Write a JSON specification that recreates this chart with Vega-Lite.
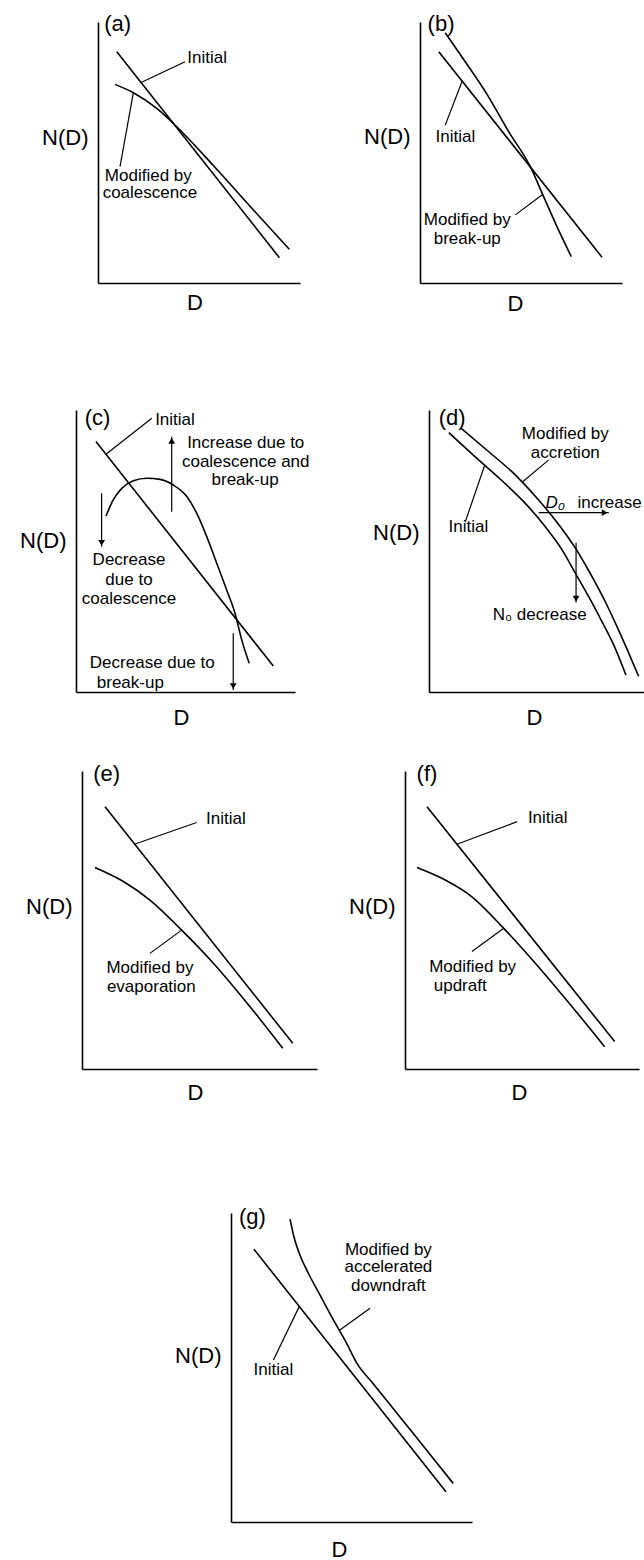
{
"$schema":"https://vega.github.io/schema/vega-lite/v6.json",
"autosize":"none",
"padding":{"left":0,"top":0,"right":644,"bottom":1560},
"background":"white",
"spacing":0,
"bounds":"flush",
"config":{
 "view":{"stroke":null},
 "font":"Liberation Sans",
 "axis":{"ticks":false,"labels":false,"grid":false,"domainColor":"black","domainWidth":1.6,"titleFont":"Liberation Sans","titleFontSize":22,"titleFontWeight":"normal","titleColor":"black"},
 "axisY":{"titleAngle":0,"titleAlign":"right","titleBaseline":"middle","titleX":-10},
 "axisX":{"titleAlign":"center","titleBaseline":"middle"},
 "text":{"font":"Liberation Sans","fontSize":17,"color":"black","baseline":"middle","align":"center"}
},
"vconcat":[
 {"width":1,"height":22,"data":{"values":[]},"mark":{"type":"point","opacity":0}},
 {"hconcat":[
  {"width":98,"height":1,"data":{"values":[]},"mark":{"type":"point","opacity":0}},
  {"width":202,"height":261,
   "data":{"values":[
    {"kind":"curve","series":"initial","x":0.93,"y":8.86},{"kind":"curve","series":"initial","x":8.98,"y":0.97},
    {"kind":"curve","series":"modified","x":0.84,"y":7.61},{"kind":"curve","series":"modified","x":1.75,"y":7.29},{"kind":"curve","series":"modified","x":2.91,"y":6.69},{"kind":"curve","series":"modified","x":4.06,"y":5.86},{"kind":"curve","series":"modified","x":5.71,"y":4.5},{"kind":"curve","series":"modified","x":7.69,"y":2.8},{"kind":"curve","series":"modified","x":9.47,"y":1.29},
    {"kind":"leader","series":"l1","x":2.16,"y":7.69},{"kind":"leader","series":"l1","x":4.31,"y":8.48},
    {"kind":"leader","series":"l2","x":1.75,"y":7.29},{"kind":"leader","series":"l2","x":1.09,"y":4.46},
    {"kind":"label","t":"Initial","x":5.4,"y":8.62},
    {"kind":"label","t":"Modified by","x":2.49,"y":4.1},
    {"kind":"label","t":"coalescence","x":2.57,"y":3.44},
    {"kind":"panel","t":"(a)","x":0.97,"y":9.92}
   ]},
   "encoding":{
    "x":{"field":"x","type":"quantitative","scale":{"domain":[0,10],"nice":false,"zero":false},"axis":{"title":"D","titleX":96.5,"titleY":19}},
    "y":{"field":"y","type":"quantitative","scale":{"domain":[0,10],"nice":false,"zero":false},"axis":{"title":"N(D)","titleY":115}}
   },
   "layer":[
    {"transform":[{"filter":"datum.kind==='curve'"}],"mark":{"type":"line","color":"black","strokeWidth":1.6,"interpolate":"monotone"},"encoding":{"detail":{"field":"series","type":"nominal"}}},
    {"transform":[{"filter":"datum.kind==='leader'"}],"mark":{"type":"line","color":"black","strokeWidth":1.2},"encoding":{"detail":{"field":"series","type":"nominal"}}},
    {"transform":[{"filter":"datum.kind==='label'"}],"mark":{"type":"text"},"encoding":{"text":{"field":"t"}}},
    {"transform":[{"filter":"datum.kind==='panel'"}],"mark":{"type":"text","fontSize":22},"encoding":{"text":{"field":"t"}}}
   ]},
  {"width":120,"height":1,"data":{"values":[]},"mark":{"type":"point","opacity":0}},
  {"width":202,"height":261,
   "data":{"values":[
    {"kind":"curve","series":"initial","x":0.93,"y":8.86},{"kind":"curve","series":"initial","x":9.01,"y":0.99},
    {"kind":"curve","series":"modified","x":1.25,"y":9.59},{"kind":"curve","series":"modified","x":2.24,"y":8.48},{"kind":"curve","series":"modified","x":3.32,"y":7.23},{"kind":"curve","series":"modified","x":4.39,"y":5.8},{"kind":"curve","series":"modified","x":5.46,"y":4.46},{"kind":"curve","series":"modified","x":6.12,"y":3.31},{"kind":"curve","series":"modified","x":6.78,"y":2.16},{"kind":"curve","series":"modified","x":7.49,"y":1.01},
    {"kind":"leader","series":"l1","x":2.08,"y":7.72},{"kind":"leader","series":"l1","x":1.25,"y":6.05},
    {"kind":"leader","series":"l2","x":6.07,"y":3.39},{"kind":"leader","series":"l2","x":4.72,"y":2.61},
    {"kind":"label","t":"Initial","x":1.75,"y":5.58},
    {"kind":"label","t":"Modified by","x":2.34,"y":2.41},
    {"kind":"label","t":"break-up","x":2.34,"y":1.67},
    {"kind":"panel","t":"(b)","x":1.04,"y":9.92}
   ]},
   "encoding":{
    "x":{"field":"x","type":"quantitative","scale":{"domain":[0,10],"nice":false,"zero":false},"axis":{"title":"D","titleX":95,"titleY":20}},
    "y":{"field":"y","type":"quantitative","scale":{"domain":[0,10],"nice":false,"zero":false},"axis":{"title":"N(D)","titleY":114}}
   },
   "layer":[
    {"transform":[{"filter":"datum.kind==='curve'"}],"mark":{"type":"line","color":"black","strokeWidth":1.6,"interpolate":"monotone"},"encoding":{"detail":{"field":"series","type":"nominal"}}},
    {"transform":[{"filter":"datum.kind==='leader'"}],"mark":{"type":"line","color":"black","strokeWidth":1.2},"encoding":{"detail":{"field":"series","type":"nominal"}}},
    {"transform":[{"filter":"datum.kind==='label'"}],"mark":{"type":"text"},"encoding":{"text":{"field":"t"}}},
    {"transform":[{"filter":"datum.kind==='panel'"}],"mark":{"type":"text","fontSize":22},"encoding":{"text":{"field":"t"}}}
   ]}
 ],"spacing":0,"bounds":"flush"},
 {"width":1,"height":388,"data":{"values":[]},"mark":{"type":"point","opacity":0}},
 {"hconcat":[
  {"width":76,"height":1,"data":{"values":[]},"mark":{"type":"point","opacity":0}},
  {"width":219,"height":282,
   "data":{"values":[
    {"kind":"curve","series":"initial","x":0.91,"y":8.88},{"kind":"curve","series":"initial","x":9.01,"y":0.92},
    {"kind":"curve","series":"modified","x":1.37,"y":6.24},{"kind":"curve","series":"modified","x":1.7,"y":6.81},{"kind":"curve","series":"modified","x":2.09,"y":7.22},{"kind":"curve","series":"modified","x":2.62,"y":7.49},{"kind":"curve","series":"modified","x":3.23,"y":7.58},{"kind":"curve","series":"modified","x":3.84,"y":7.54},{"kind":"curve","series":"modified","x":4.44,"y":7.34},{"kind":"curve","series":"modified","x":5.06,"y":6.93},{"kind":"curve","series":"modified","x":5.51,"y":6.34},{"kind":"curve","series":"modified","x":5.97,"y":5.51},{"kind":"curve","series":"modified","x":6.43,"y":4.56},{"kind":"curve","series":"modified","x":6.88,"y":3.62},{"kind":"curve","series":"modified","x":7.26,"y":2.79},{"kind":"curve","series":"modified","x":7.57,"y":1.84},{"kind":"curve","series":"modified","x":7.91,"y":1.02},
    {"kind":"leader","series":"l1","x":1.37,"y":8.43},{"kind":"leader","series":"l1","x":3.46,"y":9.71},
    {"kind":"leader","series":"s1","x":4.37,"y":6.39},{"kind":"leader","series":"s1","x":4.37,"y":9.05},
    {"kind":"leader","series":"s2","x":1.17,"y":7.05},{"kind":"leader","series":"s2","x":1.17,"y":5.15},
    {"kind":"leader","series":"s3","x":7.18,"y":2.08},{"kind":"leader","series":"s3","x":7.18,"y":0.07},
    {"kind":"head","dir":"up","x":4.37,"y":8.91},
    {"kind":"head","dir":"down","x":1.17,"y":5.29},
    {"kind":"head","dir":"down","x":7.18,"y":0.21},
    {"kind":"label","t":"Initial","x":4.52,"y":9.65},
    {"kind":"label","t":"Increase due to","x":7.75,"y":8.84},
    {"kind":"label","t":"coalescence and","x":7.75,"y":8.17},
    {"kind":"label","t":"break-up","x":7.72,"y":7.52},
    {"kind":"label","t":"Decrease","x":2.42,"y":4.68},
    {"kind":"label","t":"due to","x":2.42,"y":3.97},
    {"kind":"label","t":"coalescence","x":2.42,"y":3.29},
    {"kind":"label","t":"Decrease due to","x":3.48,"y":1.02},
    {"kind":"label","t":"break-up","x":2.48,"y":0.33},
    {"kind":"panel","t":"(c)","x":0.98,"y":9.72}
   ]},
   "encoding":{
    "x":{"field":"x","type":"quantitative","scale":{"domain":[0,10],"nice":false,"zero":false},"axis":{"title":"D","titleX":105,"titleY":25}},
    "y":{"field":"y","type":"quantitative","scale":{"domain":[0,10],"nice":false,"zero":false},"axis":{"title":"N(D)","titleY":130}}
   },
   "layer":[
    {"transform":[{"filter":"datum.kind==='curve'"}],"mark":{"type":"line","color":"black","strokeWidth":1.6,"interpolate":"monotone"},"encoding":{"detail":{"field":"series","type":"nominal"}}},
    {"transform":[{"filter":"datum.kind==='leader'"}],"mark":{"type":"line","color":"black","strokeWidth":1.2},"encoding":{"detail":{"field":"series","type":"nominal"}}},
    {"transform":[{"filter":"datum.kind==='head'"}],"mark":{"type":"point","filled":true,"color":"black","size":45,"opacity":1},"encoding":{"shape":{"field":"dir","type":"nominal","scale":{"domain":["up","down","right"],"range":["triangle-up","triangle-down","triangle-right"]},"legend":null}}},
    {"transform":[{"filter":"datum.kind==='label'"}],"mark":{"type":"text"},"encoding":{"text":{"field":"t"}}},
    {"transform":[{"filter":"datum.kind==='panel'"}],"mark":{"type":"text","fontSize":22},"encoding":{"text":{"field":"t"}}}
   ]},
  {"width":134,"height":1,"data":{"values":[]},"mark":{"type":"point","opacity":0}},
  {"width":215,"height":282,
   "data":{"values":[
    {"kind":"curve","series":"initial","x":0.92,"y":9.2},{"kind":"curve","series":"initial","x":2.15,"y":8.34},{"kind":"curve","series":"initial","x":3.4,"y":7.49},{"kind":"curve","series":"initial","x":4.48,"y":6.69},{"kind":"curve","series":"initial","x":5.41,"y":5.86},{"kind":"curve","series":"initial","x":6.19,"y":5.04},{"kind":"curve","series":"initial","x":6.81,"y":4.21},{"kind":"curve","series":"initial","x":7.43,"y":3.38},{"kind":"curve","series":"initial","x":8.05,"y":2.49},{"kind":"curve","series":"initial","x":8.59,"y":1.67},{"kind":"curve","series":"initial","x":9.16,"y":0.6},
    {"kind":"curve","series":"modified","x":1.5,"y":9.35},{"kind":"curve","series":"modified","x":2.78,"y":8.52},{"kind":"curve","series":"modified","x":4.01,"y":7.7},{"kind":"curve","series":"modified","x":5.1,"y":6.81},{"kind":"curve","series":"modified","x":6.11,"y":5.86},{"kind":"curve","series":"modified","x":6.81,"y":5.1},{"kind":"curve","series":"modified","x":7.43,"y":4.3},{"kind":"curve","series":"modified","x":8.2,"y":3.2},{"kind":"curve","series":"modified","x":8.67,"y":2.44},{"kind":"curve","series":"modified","x":9.21,"y":1.52},{"kind":"curve","series":"modified","x":9.75,"y":0.56},
    {"kind":"leader","series":"l1","x":4.33,"y":7.44},{"kind":"leader","series":"l1","x":5.57,"y":8.23},
    {"kind":"leader","series":"l2","x":2.59,"y":8.04},{"kind":"leader","series":"l2","x":1.69,"y":6.04},
    {"kind":"leader","series":"s1","x":5.1,"y":6.36},{"kind":"leader","series":"s1","x":8.36,"y":6.36},
    {"kind":"leader","series":"s2","x":6.84,"y":5.29},{"kind":"leader","series":"s2","x":6.84,"y":3.17},
    {"kind":"head","dir":"right","x":8.17,"y":6.36},
    {"kind":"head","dir":"down","x":6.84,"y":3.31},
    {"kind":"label","t":"Modified by","x":6.34,"y":9.15},
    {"kind":"label","t":"accretion","x":6.34,"y":8.49},
    {"kind":"label","t":"Initial","x":1.83,"y":5.86},
    {"kind":"label","t":"increase","x":8.4,"y":6.69},
    {"kind":"label","t":"N₀ decrease","x":5.15,"y":2.73},
    {"kind":"sym","t":"D₀","x":5.87,"y":6.69},
    {"kind":"panel","t":"(d)","x":1.08,"y":9.72}
   ]},
   "encoding":{
    "x":{"field":"x","type":"quantitative","scale":{"domain":[0,10],"nice":false,"zero":false},"axis":{"title":"D","titleX":105,"titleY":25}},
    "y":{"field":"y","type":"quantitative","scale":{"domain":[0,10],"nice":false,"zero":false},"axis":{"title":"N(D)","titleY":122}}
   },
   "layer":[
    {"transform":[{"filter":"datum.kind==='curve'"}],"mark":{"type":"line","color":"black","strokeWidth":1.6,"interpolate":"monotone"},"encoding":{"detail":{"field":"series","type":"nominal"}}},
    {"transform":[{"filter":"datum.kind==='leader'"}],"mark":{"type":"line","color":"black","strokeWidth":1.2},"encoding":{"detail":{"field":"series","type":"nominal"}}},
    {"transform":[{"filter":"datum.kind==='head'"}],"mark":{"type":"point","filled":true,"color":"black","size":45,"opacity":1},"encoding":{"shape":{"field":"dir","type":"nominal","scale":{"domain":["up","down","right"],"range":["triangle-up","triangle-down","triangle-right"]},"legend":null}}},
    {"transform":[{"filter":"datum.kind==='label'"}],"mark":{"type":"text"},"encoding":{"text":{"field":"t"}}},
    {"transform":[{"filter":"datum.kind==='sym'"}],"mark":{"type":"text","fontStyle":"italic"},"encoding":{"text":{"field":"t"}}},
    {"transform":[{"filter":"datum.kind==='panel'"}],"mark":{"type":"text","fontSize":22},"encoding":{"text":{"field":"t"}}}
   ]}
 ],"spacing":0,"bounds":"flush"},
 {"width":1,"height":361,"data":{"values":[]},"mark":{"type":"point","opacity":0}},
 {"hconcat":[
  {"width":82,"height":1,"data":{"values":[]},"mark":{"type":"point","opacity":0}},
  {"width":235,"height":298,
   "data":{"values":[
    {"kind":"curve","series":"initial","x":0.98,"y":8.8},{"kind":"curve","series":"initial","x":8.97,"y":0.86},
    {"kind":"curve","series":"modified","x":0.55,"y":6.76},{"kind":"curve","series":"modified","x":1.76,"y":6.29},{"kind":"curve","series":"modified","x":2.89,"y":5.67},{"kind":"curve","series":"modified","x":4.24,"y":4.66},{"kind":"curve","series":"modified","x":5.59,"y":3.55},{"kind":"curve","series":"modified","x":7.15,"y":2.09},{"kind":"curve","series":"modified","x":8.54,"y":0.7},
    {"kind":"leader","series":"l1","x":2.26,"y":7.55},{"kind":"leader","series":"l1","x":4.88,"y":8.27},
    {"kind":"leader","series":"l2","x":4.24,"y":4.66},{"kind":"leader","series":"l2","x":2.89,"y":3.88},
    {"kind":"label","t":"Initial","x":6.12,"y":8.38},
    {"kind":"label","t":"Modified by","x":2.89,"y":3.38},
    {"kind":"label","t":"evaporation","x":2.95,"y":2.76},
    {"kind":"panel","t":"(e)","x":1.05,"y":9.9}
   ]},
   "encoding":{
    "x":{"field":"x","type":"quantitative","scale":{"domain":[0,10],"nice":false,"zero":false},"axis":{"title":"D","titleX":113,"titleY":23}},
    "y":{"field":"y","type":"quantitative","scale":{"domain":[0,10],"nice":false,"zero":false},"axis":{"title":"N(D)","titleY":135}}
   },
   "layer":[
    {"transform":[{"filter":"datum.kind==='curve'"}],"mark":{"type":"line","color":"black","strokeWidth":1.6,"interpolate":"monotone"},"encoding":{"detail":{"field":"series","type":"nominal"}}},
    {"transform":[{"filter":"datum.kind==='leader'"}],"mark":{"type":"line","color":"black","strokeWidth":1.2},"encoding":{"detail":{"field":"series","type":"nominal"}}},
    {"transform":[{"filter":"datum.kind==='label'"}],"mark":{"type":"text"},"encoding":{"text":{"field":"t"}}},
    {"transform":[{"filter":"datum.kind==='panel'"}],"mark":{"type":"text","fontSize":22},"encoding":{"text":{"field":"t"}}}
   ]},
  {"width":88,"height":1,"data":{"values":[]},"mark":{"type":"point","opacity":0}},
  {"width":234,"height":298,
   "data":{"values":[
    {"kind":"curve","series":"initial","x":0.94,"y":8.8},{"kind":"curve","series":"initial","x":8.96,"y":0.92},
    {"kind":"curve","series":"modified","x":0.51,"y":6.76},{"kind":"curve","series":"modified","x":1.72,"y":6.34},{"kind":"curve","series":"modified","x":2.86,"y":5.78},{"kind":"curve","series":"modified","x":4.22,"y":4.72},{"kind":"curve","series":"modified","x":5.57,"y":3.55},{"kind":"curve","series":"modified","x":7.14,"y":2.09},{"kind":"curve","series":"modified","x":8.53,"y":0.75},
    {"kind":"leader","series":"l1","x":2.22,"y":7.54},{"kind":"leader","series":"l1","x":4.79,"y":8.3},
    {"kind":"leader","series":"l2","x":4.22,"y":4.72},{"kind":"leader","series":"l2","x":2.86,"y":3.94},
    {"kind":"label","t":"Initial","x":6.1,"y":8.41},
    {"kind":"label","t":"Modified by","x":2.89,"y":3.43},
    {"kind":"label","t":"updraft","x":2.36,"y":2.79},
    {"kind":"panel","t":"(f)","x":0.94,"y":9.9}
   ]},
   "encoding":{
    "x":{"field":"x","type":"quantitative","scale":{"domain":[0,10],"nice":false,"zero":false},"axis":{"title":"D","titleX":114,"titleY":23}},
    "y":{"field":"y","type":"quantitative","scale":{"domain":[0,10],"nice":false,"zero":false},"axis":{"title":"N(D)","titleY":135}}
   },
   "layer":[
    {"transform":[{"filter":"datum.kind==='curve'"}],"mark":{"type":"line","color":"black","strokeWidth":1.6,"interpolate":"monotone"},"encoding":{"detail":{"field":"series","type":"nominal"}}},
    {"transform":[{"filter":"datum.kind==='leader'"}],"mark":{"type":"line","color":"black","strokeWidth":1.2},"encoding":{"detail":{"field":"series","type":"nominal"}}},
    {"transform":[{"filter":"datum.kind==='label'"}],"mark":{"type":"text"},"encoding":{"text":{"field":"t"}}},
    {"transform":[{"filter":"datum.kind==='panel'"}],"mark":{"type":"text","fontSize":22},"encoding":{"text":{"field":"t"}}}
   ]}
 ],"spacing":0,"bounds":"flush"},
 {"width":1,"height":442,"data":{"values":[]},"mark":{"type":"point","opacity":0}},
 {"hconcat":[
  {"width":231,"height":1,"data":{"values":[]},"mark":{"type":"point","opacity":0}},
  {"width":241,"height":309,
   "data":{"values":[
    {"kind":"curve","series":"initial","x":0.95,"y":8.83},{"kind":"curve","series":"initial","x":8.92,"y":0.98},
    {"kind":"curve","series":"modified","x":2.45,"y":9.8},{"kind":"curve","series":"modified","x":2.61,"y":9.23},{"kind":"curve","series":"modified","x":2.86,"y":8.64},{"kind":"curve","series":"modified","x":3.21,"y":8.05},{"kind":"curve","series":"modified","x":3.69,"y":7.35},{"kind":"curve","series":"modified","x":4.25,"y":6.54},{"kind":"curve","series":"modified","x":4.8,"y":5.78},{"kind":"curve","series":"modified","x":5.22,"y":5.14},{"kind":"curve","series":"modified","x":5.91,"y":4.47},{"kind":"curve","series":"modified","x":7.01,"y":3.4},{"kind":"curve","series":"modified","x":8.12,"y":2.32},{"kind":"curve","series":"modified","x":9.22,"y":1.25},
    {"kind":"leader","series":"l1","x":4.49,"y":6.2},{"kind":"leader","series":"l1","x":5.77,"y":6.92},
    {"kind":"leader","series":"l2","x":2.83,"y":6.97},{"kind":"leader","series":"l2","x":1.76,"y":5.24},
    {"kind":"label","t":"Modified by","x":6.53,"y":8.8},
    {"kind":"label","t":"accelerated","x":6.53,"y":8.24},
    {"kind":"label","t":"downdraft","x":6.53,"y":7.64},
    {"kind":"label","t":"Initial","x":1.76,"y":4.92},
    {"kind":"panel","t":"(g)","x":0.89,"y":9.88}
   ]},
   "encoding":{
    "x":{"field":"x","type":"quantitative","scale":{"domain":[0,10],"nice":false,"zero":false},"axis":{"title":"D","titleX":108,"titleY":27}},
    "y":{"field":"y","type":"quantitative","scale":{"domain":[0,10],"nice":false,"zero":false},"axis":{"title":"N(D)","titleY":142}}
   },
   "layer":[
    {"transform":[{"filter":"datum.kind==='curve'"}],"mark":{"type":"line","color":"black","strokeWidth":1.6,"interpolate":"monotone"},"encoding":{"detail":{"field":"series","type":"nominal"}}},
    {"transform":[{"filter":"datum.kind==='leader'"}],"mark":{"type":"line","color":"black","strokeWidth":1.2},"encoding":{"detail":{"field":"series","type":"nominal"}}},
    {"transform":[{"filter":"datum.kind==='label'"}],"mark":{"type":"text"},"encoding":{"text":{"field":"t"}}},
    {"transform":[{"filter":"datum.kind==='panel'"}],"mark":{"type":"text","fontSize":22},"encoding":{"text":{"field":"t"}}}
   ]}
 ],"spacing":0,"bounds":"flush"}
]
}
